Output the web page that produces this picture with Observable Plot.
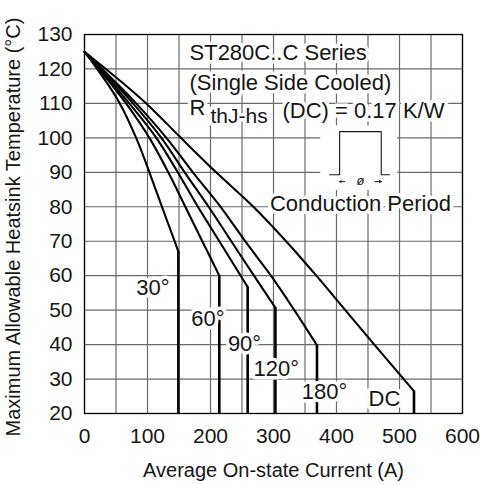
<!DOCTYPE html>
<html>
<head>
<meta charset="utf-8">
<script src="https://cdn.jsdelivr.net/npm/d3@7"></script>
<script src="https://cdn.jsdelivr.net/npm/@observablehq/plot@0.6"></script>
<style>
  html, body { margin: 0; padding: 0; background: white; }
</style>
</head>
<body>
<div id="chart"></div>
<script>
// ---- data ----
const seriesNames = ["30°", "60°", "90°", "120°", "180°", "DC"];
const tempLevels = [125, 110, 100, 90, 80, 70, 60, 50, 40];
const cur30  = [0, 56, 82, 103, 123, 143];
const cur60  = [0, 66, 103, 133, 160, 187];
const cur90  = [0, 71, 114, 148, 180, 214];
const cur120 = [0, 77, 122, 159, 197, 233, 269];
const cur180 = [0, 82, 130, 172, 216, 255, 296, 333];
const curDC  = [0, 98, 153, 209, 268, 320, 368, 414, 460];
const kneeCurrent = [149, 214, 259, 303, 369, 523];
const kneeTemp = [67, 60, 56.7, 50.7, 39.8, 26.5];
const labelCurrent = [108.7, 196, 254, 304.5, 381, 476];
const labelTemp = [56.5, 47.4, 40.3, 32.9, 26.2, 24.2];

const xTicks = [0, 100, 200, 300, 400, 500, 600];
const xGrid = [0, 50, 100, 150, 200, 250, 300, 350, 400, 450, 500, 550, 600];
const yTicks = [20, 30, 40, 50, 60, 70, 80, 90, 100, 110, 120, 130];

const titleLines = ["ST280C..C Series", "(Single Side Cooled)"];
const xTitle = "Average On-state Current (A)";
const yTitle = "Maximum Allowable Heatsink Temperature (°C)";

// inset waveform (conduction period sketch)
const waveX = [389, 405, 405, 471, 471, 484];
const waveT = [89.3, 89.3, 101.8, 101.8, 89.3, 89.3];

// ---- build tables ----
const currents = [cur30, cur60, cur90, cur120, cur180, curDC];
const curveRows = [];
currents.forEach((arr, i) => {
  arr.forEach((c, j) => curveRows.push({s: seriesNames[i], I: c, T: tempLevels[j]}));
  curveRows.push({s: seriesNames[i], I: kneeCurrent[i], T: kneeTemp[i]});
});
const kneeRows = seriesNames.map((s, i) => ({s, I: kneeCurrent[i], T: kneeTemp[i]}));
const labelRows = seriesNames.map((s, i) => ({s, I: labelCurrent[i], T: labelTemp[i]}));
const waveRows = waveX.map((x, i) => ({x, T: waveT[i]}));

const font = "'Liberation Sans', Arial, Helvetica, sans-serif";
const ink = "#161616";
const gridColor = "#6a6a6a";

const chart = Plot.plot({
  width: 482,
  height: 485,
  marginLeft: 84,
  marginRight: 20,
  marginTop: 34,
  marginBottom: 72,
  x: {domain: [0, 600]},
  y: {domain: [20, 130]},
  style: {fontFamily: font, color: ink, background: "white", overflow: "visible"},
  marks: [
    Plot.gridX(xGrid, {stroke: gridColor, strokeOpacity: 1, strokeWidth: 1.2}),
    Plot.gridY(yTicks, {stroke: gridColor, strokeOpacity: 1, strokeWidth: 1.2}),
    // white background for inset sketch
    Plot.rect([{x1: 375, x2: 497, y1: 84.7, y2: 103.5}], {x1: "x1", x2: "x2", y1: "y1", y2: "y2", fill: "white"}),
    // inset waveform
    Plot.line(waveRows, {x: "x", y: "T", stroke: ink, strokeWidth: 1.1}),
    Plot.arrow([{a: 0}], {x1: 413, x2: 405, y1: 87.3, y2: 87.3, stroke: ink, strokeWidth: 1, headLength: 5}),
    Plot.arrow([{a: 0}], {x1: 461, x2: 471, y1: 87.3, y2: 87.3, stroke: ink, strokeWidth: 1, headLength: 5}),
    Plot.text(["ø"], {x: 438, y: 87.5, fontSize: 13, fontStyle: "italic", fill: ink}),
    // curves
    Plot.line(curveRows, {x: "I", y: "T", z: "s", curve: "monotone-y", stroke: "black", strokeWidth: 2.1}),
    Plot.ruleX(kneeRows, {x: "I", y1: 20, y2: "T", stroke: "black", strokeWidth: 2.6}),
    // curve labels
    Plot.text(labelRows, {x: "I", y: "T", text: "s", fontSize: 22, fill: ink, stroke: "white", strokeWidth: 7}),
    // title block
    Plot.text(titleLines, {x: 166.7, y: (d, i) => [124.6, 115.9][i], text: d => d, textAnchor: "start", fontSize: 22, fill: ink, stroke: "white", strokeWidth: 7}),
    Plot.text(["R"], {x: 166.7, y: 108.6, textAnchor: "start", fontSize: 22, fill: ink, stroke: "white", strokeWidth: 7}),
    Plot.text(["thJ-hs"], {x: 200, y: 106.4, textAnchor: "start", fontSize: 21, fill: ink, stroke: "white", strokeWidth: 7}),
    Plot.text(["(DC) = 0.17 K/W"], {x: 314.3, y: 107.9, textAnchor: "start", fontSize: 22, fill: ink, stroke: "white", strokeWidth: 7}),
    Plot.text(["Conduction Period"], {x: 438, y: 80.9, fontSize: 22, fill: ink, stroke: "white", strokeWidth: 7}),
    // axes
    Plot.axisX(xTicks, {tickSize: 0, tickPadding: 15, fontSize: 21, label: null}),
    Plot.axisY(yTicks, {tickSize: 0, tickPadding: 12, fontSize: 21, label: null}),
    Plot.text([xTitle], {frameAnchor: "bottom", dy: 63, fontSize: 20, fill: ink, style: "word-spacing:-3px"}),
    Plot.text([yTitle], {frameAnchor: "left", textAnchor: "middle", dx: -71, dy: 3, rotate: -90, fontSize: 20, fill: ink, style: "word-spacing:-3px"}),
    Plot.frame({stroke: "black", strokeWidth: 1.3})
  ]
});
document.getElementById("chart").appendChild(chart);
</script>
</body>
</html>
